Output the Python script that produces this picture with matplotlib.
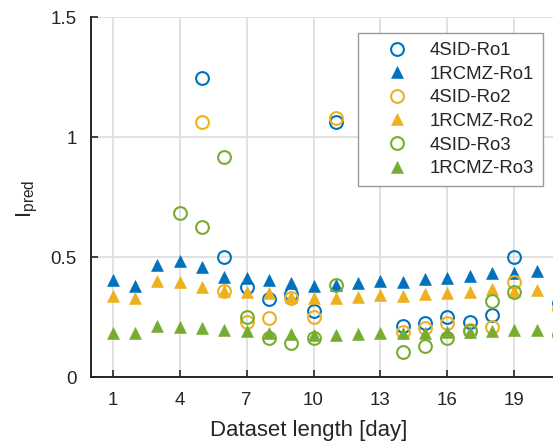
import numpy as np
import matplotlib
matplotlib.use("Agg")
import matplotlib.pyplot as plt

nan = np.nan
days = np.arange(1, 22)

sid_ro1 = [nan, nan, nan, nan, 1.245, 0.501, 0.374, 0.324, 0.346, 0.276, 1.062,
           nan, nan, 0.2125, 0.224, 0.249, 0.23, 0.258, 0.501, nan, 0.31]
rcmz_ro1 = [0.404, 0.38, 0.467, 0.483, 0.458, 0.418, 0.414, 0.404, 0.39, 0.379, 0.385,
            0.393, 0.401, 0.397, 0.407, 0.411, 0.421, 0.432, 0.435, 0.443, 0.437]
sid_ro2 = [nan, nan, nan, nan, 1.061, 0.36, 0.23, 0.244, 0.33, 0.249, 1.079,
           nan, nan, 0.189, 0.203, 0.226, 0.196, 0.21, 0.395, nan, 0.282]
rcmz_ro2 = [0.3375, 0.328, 0.40, 0.395, 0.376, 0.36, 0.355, 0.349, 0.335, 0.328, 0.33,
            0.335, 0.342, 0.3375, 0.345, 0.349, 0.355, 0.365, 0.36, 0.3625, 0.36]
sid_ro3 = [nan, nan, nan, 0.683, 0.626, 0.918, 0.249, 0.161, 0.14, 0.161, 0.383,
           nan, nan, 0.105, 0.131, 0.161, 0.19, 0.317, 0.355, nan, 0.175]
rcmz_ro3 = [0.185, 0.185, 0.2125, 0.21, 0.203, 0.196, 0.192, 0.182, 0.179, 0.175, 0.175,
            0.178, 0.182, 0.182, 0.182, 0.189, 0.189, 0.193, 0.196, 0.196, 0.175]

labels = ["4SID-Ro1", "1RCMZ-Ro1", "4SID-Ro2", "1RCMZ-Ro2", "4SID-Ro3", "1RCMZ-Ro3"]
xticks = [1, 4, 7, 10, 13, 16, 19]
yticks = [0, 0.5, 1, 1.5]
ytick_labels = ["0", "0.5", "1", "1.5"]

blue, orange, green = "#0072BD", "#EDB120", "#77AC30"
txt = "#262626"

plt.rcParams["font.family"] = ["Liberation Sans", "DejaVu Sans"]
plt.rcParams["mathtext.fontset"] = "custom"
plt.rcParams["mathtext.rm"] = "Liberation Sans"
plt.rcParams["mathtext.it"] = "Liberation Sans"

W, H = 553, 443
fig = plt.figure(figsize=(W / 100, H / 100), dpi=100)
left, right_px, top, bottom = 90.5, 90.5 + 21 * 22.3, 17, 377
ax = fig.add_axes([left / W, (H - bottom) / H, (right_px - left) / W, (bottom - top) / H])

series = [sid_ro1, rcmz_ro1, sid_ro2, rcmz_ro2, sid_ro3, rcmz_ro3]
colors = [blue, blue, orange, orange, green, green]
for i, (vals, c, lab) in enumerate(zip(series, colors, labels)):
    if i % 2 == 0:
        ax.plot(days, vals, linestyle="none", marker="o", markersize=9.2,
                markerfacecolor="none", markeredgecolor=c, markeredgewidth=1.5,
                label=lab, zorder=3)
    else:
        ax.plot(days, vals, linestyle="none", marker="^", markersize=8.5,
                markerfacecolor=c, markeredgecolor=c, markeredgewidth=0.4,
                label=lab, zorder=3)

ax.set_xlim(0, 21)
ax.set_ylim(0, 1.5)
ax.set_xticks(xticks)
ax.set_yticks(yticks)
ax.set_yticklabels(ytick_labels)
ax.grid(True, color="#dedede", linewidth=1.3)
ax.set_axisbelow(True)
for s in ["top", "right"]:
    ax.spines[s].set_visible(False)
for s in ["left", "bottom"]:
    ax.spines[s].set_color(txt)
    ax.spines[s].set_linewidth(1.4)
ax.tick_params(direction="in", length=5, width=1.2, colors=txt, labelsize=13.5)
ax.tick_params(axis="x", pad=10.5)
ax.tick_params(axis="y", pad=10)

fig.text(308.7 / W, (H - 435.7) / H, "Dataset length [day]", fontsize=15.9,
         color=txt, ha="center", va="baseline")
fig.text(27.5 / W, 1 - 198.5 / H, r"$\mathregular{I_{pred}}$", fontsize=16,
         color=txt, rotation=90, ha="center", va="center")

leg = ax.legend(loc="upper right", bbox_to_anchor=(543 / W, 1 - 33 / H),
                bbox_transform=fig.transFigure, borderaxespad=0, fontsize=13.4,
                frameon=True, fancybox=False, edgecolor="#9a9a9a", framealpha=1,
                handlelength=3.2, handletextpad=0.12, labelspacing=0.35,
                borderpad=0.5, numpoints=1)
leg.get_frame().set_linewidth(1.0)
for t in leg.get_texts():
    t.set_color(txt)

fig.savefig("out.png", dpi=100)
